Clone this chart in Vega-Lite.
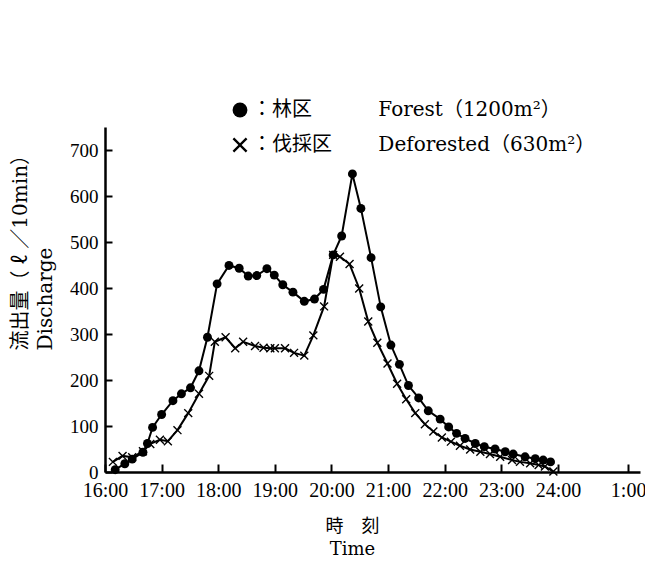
{
  "$schema": "https://vega.github.io/schema/vega-lite/v6.json",
  "width": 535,
  "height": 345,
  "autosize": {"type": "none"},
  "padding": {"left": 105, "top": 127, "right": 5, "bottom": 91},
  "background": "white",
  "config": {
    "view": {"stroke": null},
    "font": "DejaVu Serif, Noto Sans CJK JP",
    "axis": {"grid": false, "domainColor": "black", "domainWidth": 2.5, "tickColor": "black", "tickWidth": 2, "labelColor": "black", "titleColor": "black"}
  },
  "data": {
    "values": [
      {"t": 16.18, "q": 5, "s": "Forest"},
      {"t": 16.35, "q": 18, "s": "Forest"},
      {"t": 16.48, "q": 28, "s": "Forest"},
      {"t": 16.67, "q": 43, "s": "Forest"},
      {"t": 16.75, "q": 62, "s": "Forest"},
      {"t": 16.84, "q": 97, "s": "Forest"},
      {"t": 17.00, "q": 125, "s": "Forest"},
      {"t": 17.20, "q": 155, "s": "Forest"},
      {"t": 17.35, "q": 170, "s": "Forest"},
      {"t": 17.51, "q": 183, "s": "Forest"},
      {"t": 17.66, "q": 220, "s": "Forest"},
      {"t": 17.81, "q": 293, "s": "Forest"},
      {"t": 17.98, "q": 409, "s": "Forest"},
      {"t": 18.19, "q": 449, "s": "Forest"},
      {"t": 18.37, "q": 443, "s": "Forest"},
      {"t": 18.53, "q": 426, "s": "Forest"},
      {"t": 18.68, "q": 427, "s": "Forest"},
      {"t": 18.86, "q": 442, "s": "Forest"},
      {"t": 18.99, "q": 428, "s": "Forest"},
      {"t": 19.14, "q": 407, "s": "Forest"},
      {"t": 19.32, "q": 391, "s": "Forest"},
      {"t": 19.52, "q": 371, "s": "Forest"},
      {"t": 19.70, "q": 376, "s": "Forest"},
      {"t": 19.86, "q": 397, "s": "Forest"},
      {"t": 20.03, "q": 472, "s": "Forest"},
      {"t": 20.18, "q": 513, "s": "Forest"},
      {"t": 20.37, "q": 648, "s": "Forest"},
      {"t": 20.52, "q": 573, "s": "Forest"},
      {"t": 20.70, "q": 466, "s": "Forest"},
      {"t": 20.87, "q": 359, "s": "Forest"},
      {"t": 21.05, "q": 276, "s": "Forest"},
      {"t": 21.20, "q": 234, "s": "Forest"},
      {"t": 21.36, "q": 188, "s": "Forest"},
      {"t": 21.54, "q": 161, "s": "Forest"},
      {"t": 21.71, "q": 133, "s": "Forest"},
      {"t": 21.92, "q": 115, "s": "Forest"},
      {"t": 22.07, "q": 98, "s": "Forest"},
      {"t": 22.21, "q": 84, "s": "Forest"},
      {"t": 22.36, "q": 73, "s": "Forest"},
      {"t": 22.54, "q": 62, "s": "Forest"},
      {"t": 22.70, "q": 55, "s": "Forest"},
      {"t": 22.89, "q": 50, "s": "Forest"},
      {"t": 23.07, "q": 44, "s": "Forest"},
      {"t": 23.21, "q": 39, "s": "Forest"},
      {"t": 23.42, "q": 33, "s": "Forest"},
      {"t": 23.60, "q": 29, "s": "Forest"},
      {"t": 23.74, "q": 26, "s": "Forest"},
      {"t": 23.87, "q": 22, "s": "Forest"},
      {"t": 16.14, "q": 22, "s": "Deforested"},
      {"t": 16.31, "q": 35, "s": "Deforested"},
      {"t": 16.48, "q": 32, "s": "Deforested"},
      {"t": 16.67, "q": 45, "s": "Deforested"},
      {"t": 16.80, "q": 61, "s": "Deforested"},
      {"t": 16.97, "q": 70, "s": "Deforested"},
      {"t": 17.11, "q": 67, "s": "Deforested"},
      {"t": 17.28, "q": 91, "s": "Deforested"},
      {"t": 17.47, "q": 128, "s": "Deforested"},
      {"t": 17.66, "q": 170, "s": "Deforested"},
      {"t": 17.84, "q": 209, "s": "Deforested"},
      {"t": 17.94, "q": 283, "s": "Deforested"},
      {"t": 18.13, "q": 293, "s": "Deforested"},
      {"t": 18.30, "q": 269, "s": "Deforested"},
      {"t": 18.44, "q": 283, "s": "Deforested"},
      {"t": 18.65, "q": 274, "s": "Deforested"},
      {"t": 18.80, "q": 270, "s": "Deforested"},
      {"t": 18.92, "q": 269, "s": "Deforested"},
      {"t": 19.00, "q": 269, "s": "Deforested"},
      {"t": 19.18, "q": 269, "s": "Deforested"},
      {"t": 19.34, "q": 259, "s": "Deforested"},
      {"t": 19.52, "q": 253, "s": "Deforested"},
      {"t": 19.68, "q": 297, "s": "Deforested"},
      {"t": 19.87, "q": 360, "s": "Deforested"},
      {"t": 20.03, "q": 472, "s": "Deforested"},
      {"t": 20.15, "q": 468, "s": "Deforested"},
      {"t": 20.32, "q": 452, "s": "Deforested"},
      {"t": 20.49, "q": 399, "s": "Deforested"},
      {"t": 20.65, "q": 327, "s": "Deforested"},
      {"t": 20.81, "q": 281, "s": "Deforested"},
      {"t": 20.99, "q": 236, "s": "Deforested"},
      {"t": 21.16, "q": 192, "s": "Deforested"},
      {"t": 21.32, "q": 158, "s": "Deforested"},
      {"t": 21.48, "q": 128, "s": "Deforested"},
      {"t": 21.65, "q": 104, "s": "Deforested"},
      {"t": 21.80, "q": 88, "s": "Deforested"},
      {"t": 21.95, "q": 75, "s": "Deforested"},
      {"t": 22.11, "q": 66, "s": "Deforested"},
      {"t": 22.27, "q": 57, "s": "Deforested"},
      {"t": 22.45, "q": 49, "s": "Deforested"},
      {"t": 22.63, "q": 44, "s": "Deforested"},
      {"t": 22.80, "q": 39, "s": "Deforested"},
      {"t": 22.98, "q": 33, "s": "Deforested"},
      {"t": 23.19, "q": 26, "s": "Deforested"},
      {"t": 23.33, "q": 22, "s": "Deforested"},
      {"t": 23.51, "q": 19, "s": "Deforested"},
      {"t": 23.66, "q": 15, "s": "Deforested"},
      {"t": 23.77, "q": 12, "s": "Deforested"},
      {"t": 23.92, "q": 1, "s": "Deforested"}
    ]
  },
  "encoding": {
    "x": {
      "field": "t", "type": "quantitative",
      "scale": {"domain": [16, 25.45], "nice": false, "zero": false},
      "axis": {
        "values": [16, 17, 18, 19, 20, 21, 22, 23, 24, 25.24],
        "labelExpr": "datum.value > 24.5 ? '1:00' : format(datum.value, 'd') + ':00'",
        "labelFont": "Liberation Serif",
        "labelFontSize": 20,
        "labelPadding": 16,
        "tickSize": -8,
        "labelFlush": false,
        "labelOverlap": false,
        "title": ["時　刻", "Time"],
        "titleFontSize": 18,
        "titleFontWeight": "normal",
        "titleLineHeight": 23,
        "titleX": 247,
        "titleY": 45,
        "titleAlign": "center",
        "titleBaseline": "top",
        "titleAnchor": null
      }
    },
    "y": {
      "field": "q", "type": "quantitative",
      "scale": {"domain": [0, 750], "nice": false},
      "axis": {
        "values": [0, 100, 200, 300, 400, 500, 600, 700],
        "labelFont": "Liberation Serif",
        "labelFontSize": 19,
        "labelPadding": 14,
        "tickSize": -7,
        "labelOverlap": false,
        "labelFlush": false,
        "title": ["流出量（ ℓ ／10min）", "Discharge"],
        "titleFontSize": 20,
        "titleFontWeight": "normal",
        "titleLineHeight": 25,
        "titleAngle": -90,
        "titleX": -95,
        "titleY": 223,
        "titleAlign": "left",
        "titleBaseline": "top",
        "titleAnchor": null
      }
    }
  },
  "layer": [
    {
      "mark": {"type": "line", "color": "black", "strokeWidth": 2},
      "encoding": {"detail": {"field": "s", "type": "nominal"}}
    },
    {
      "mark": {"type": "point", "filled": true, "color": "black", "opacity": 1, "size": 80},
      "encoding": {
        "shape": {
          "field": "s", "type": "nominal",
          "scale": {"domain": ["Forest", "Deforested"], "range": ["circle", "M-1,-0.78L-0.78,-1L0,-0.22L0.78,-1L1,-0.78L0.22,0L1,0.78L0.78,1L0,0.22L-0.78,1L-1,0.78L-0.22,0Z"]},
          "legend": {
            "orient": "none",
            "legendX": 125,
            "legendY": -27,
            "padding": 0,
            "title": null,
            "symbolSize": 220,
            "symbolFillColor": "black",
            "symbolOpacity": 1,
            "labelFontSize": 20,
            "labelColor": "black",
            "labelLimit": 500,
            "labelOffset": 2,
            "rowPadding": 13,
            "labelExpr": "datum.label == 'Forest' ? '：林区　　　  Forest（1200m²）' : '：伐採区　　  Deforested（630m²）'",
            "encode": {
              "symbols": {
                "fill": {"value": "black"},
                "opacity": {"value": 1}
              }
            }
          }
        }
      }
    }
  ]
}
